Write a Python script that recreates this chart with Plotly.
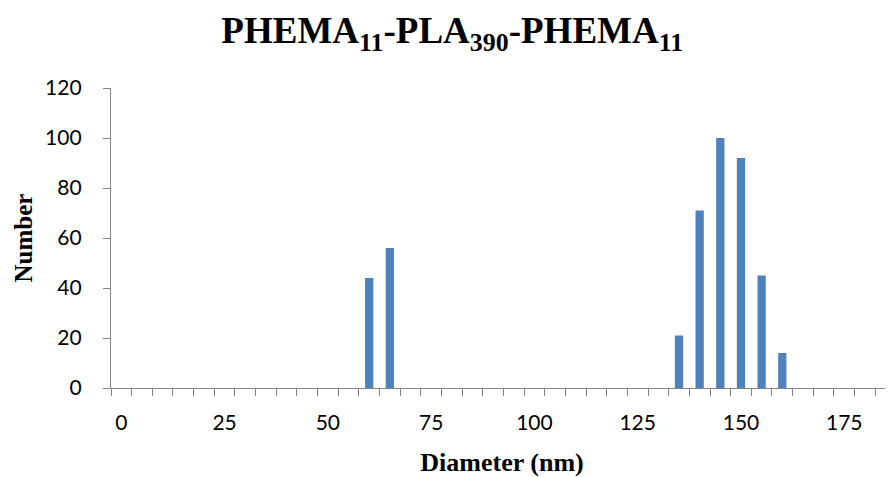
import plotly.graph_objects as go

# Data
diameters = [60, 65, 135, 140, 145, 150, 155, 160]
counts = [44, 56, 21, 71, 100, 92, 45, 14]
x_tick_vals = [0, 25, 50, 75, 100, 125, 150, 175]
x_tick_text = ["0", "25", "50", "75", "100", "125", "150", "175"]
y_tick_vals = [0, 20, 40, 60, 80, 100, 120]

fig = go.Figure()
fig.add_trace(go.Bar(
    x=diameters, y=counts, width=2.0,
    marker=dict(color="#4F81BD", line=dict(width=0)),
))

axis_gray = "#868686"
fig.update_layout(
    width=885, height=469,
    margin=dict(l=103, r=0, t=80, b=89),
    paper_bgcolor="white", plot_bgcolor="white",
    showlegend=False,
    title=dict(
        text="PHEMA<sub>11</sub>-PLA<sub>390</sub>-PHEMA<sub>11</sub>",
        x=0.502, xanchor="center", y=0.953, yanchor="middle",
        automargin=False,
        font=dict(family="Liberation Serif", size=37, color="black", weight="bold"),
    ),
    font=dict(family="Lato", size=21, color="black"),
)
fig.update_xaxes(
    range=[-2.5, 186.8], automargin=False,
    tickvals=x_tick_vals, ticktext=x_tick_text,
    ticks="outside", ticklen=0, tickcolor=axis_gray,
    showline=True, linecolor=axis_gray, linewidth=1.3,
    showgrid=False, zeroline=False,
    ticklabelstandoff=16,
    tickfont=dict(family="Lato", size=21, color="black"),
    minor=dict(ticks="outside", tick0=-2.5, dtick=5, ticklen=7,
               tickcolor=axis_gray, tickwidth=1.3, showgrid=False),
    title=dict(text="Diameter (nm)", standoff=23,
               font=dict(family="Liberation Serif", size=26, color="black", weight="bold")),
)
fig.update_yaxes(
    range=[0, 120], tickvals=y_tick_vals, automargin=False,
    ticks="outside", ticklen=7, tickcolor=axis_gray, tickwidth=1.3,
    showline=True, linecolor=axis_gray, linewidth=1.3,
    showgrid=False, zeroline=False,
    ticklabelstandoff=17,
    tickfont=dict(family="Lato", size=21, color="black"),
    title=dict(text="Number", standoff=5,
               font=dict(family="Liberation Serif", size=25, color="black", weight="bold")),
)

fig.write_html("out.html")
